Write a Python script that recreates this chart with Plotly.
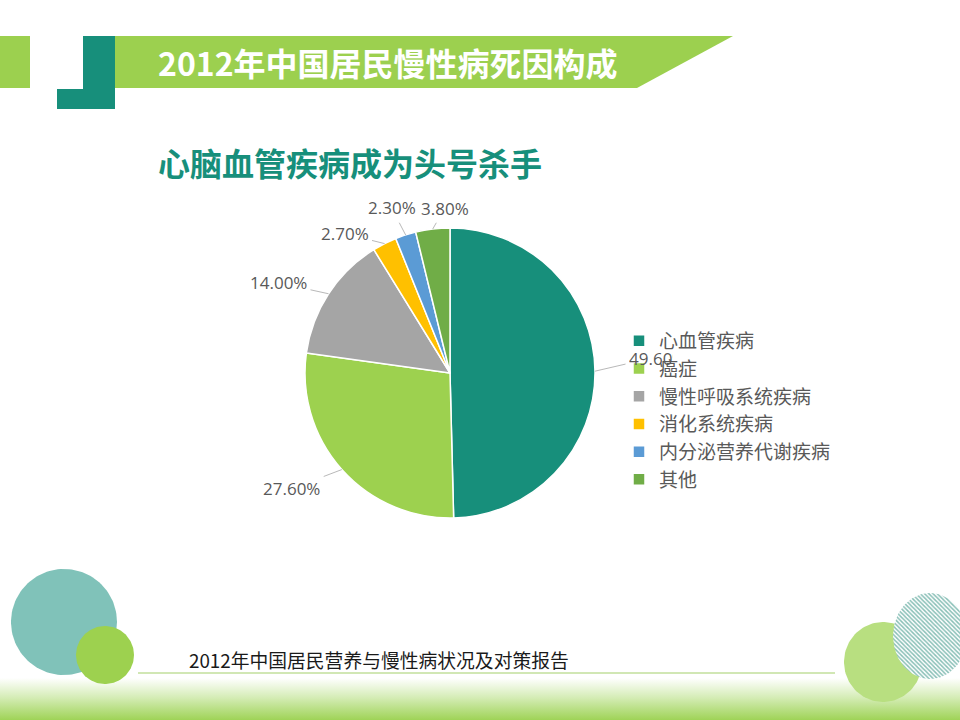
import numpy as np
import plotly.graph_objects as go

# data
categories = ['心血管疾病', '癌症', '慢性呼吸系统疾病', '消化系统疾病', '内分泌营养代谢疾病', '其他']
shares = [49.6, 27.6, 14.0, 2.7, 2.3, 3.8]

title_text = '2012年中国居民慢性病死因构成'
subtitle_text = '心脑血管疾病成为头号杀手'
source_text = '2012年中国居民营养与慢性病状况及对策报告'

# colours
slice_colors = ['#178f7b', '#9dd14f', '#a5a5a5', '#ffc000', '#5b9bd5', '#70ad47']
TEAL = '#178f7b'
GREEN = '#9cd04f'
LABEL_GREY = '#595959'

# everything is laid out in window pixels (y down); body margin is removed below
W, H = 960, 720
PIE_CX, PIE_CY, PIE_R = 450, 373, 145

# label offsets from the slice edge (pixels), and clipped box width for the first one
label_offsets = [(56, -13), (-50, 19), (-50, -11), (-40, -10), (-14, -27), (12, -21)]
label_widths = [44, None, None, None, None, None]


def circle_xy(cx, cy, rx, ry, n=120):
    t = np.linspace(0, 2 * np.pi, n)
    return cx + rx * np.cos(t), cy + ry * np.sin(t)


fig = go.Figure()

# bottom gradient band
fig.add_trace(go.Scatter(
    x=[0, W, W, 0, 0], y=[678, 678, H, H, 678], mode='lines', line=dict(width=0),
    fill='toself', hoverinfo='skip', showlegend=False,
    fillgradient=dict(type='vertical', start=678, stop=H,
                      colorscale=[[0, '#ffffff'], [0.45, '#d6edb8'], [1, '#9fd357']]),
))

# decorative circles
for cx, cy, rx, ry, col in [(64, 622, 53, 53, '#80c2b9'),
                            (105, 655, 29, 29, '#9dd14f'),
                            (883, 662, 39, 40, '#b8df80')]:
    xs, ys = circle_xy(cx, cy, rx, ry)
    fig.add_trace(go.Scatter(x=xs, y=ys, mode='lines', line=dict(width=0), fill='toself',
                             fillcolor=col, hoverinfo='skip', showlegend=False))

# hatched circle bottom right
xs, ys = circle_xy(930, 636, 37, 43)
fig.add_trace(go.Scatter(
    x=xs, y=ys, mode='lines', line=dict(width=0), fill='toself', hoverinfo='skip', showlegend=False,
    fillpattern=dict(shape='\\', fgcolor='#12806e', bgcolor='white', size=3, solidity=0.5),
))

# the pie
fig.add_trace(go.Pie(
    labels=categories, values=shares, sort=False, direction='clockwise', rotation=0,
    marker=dict(colors=slice_colors, line=dict(color='white', width=1.5)),
    textinfo='none', hoverinfo='label+percent',
    domain=dict(x=[(PIE_CX - PIE_R) / W, (PIE_CX + PIE_R) / W],
                y=[1 - (PIE_CY + PIE_R) / H, 1 - (PIE_CY - PIE_R) / H]),
))

# header shapes
shapes = [
    dict(type='rect', x0=0, x1=30, y0=36, y1=88, fillcolor=GREEN, line_width=0),
    dict(type='path', path='M 115 36 L 733 36 L 637 88 L 115 88 Z', fillcolor=GREEN, line_width=0),
    dict(type='rect', x0=83, x1=115, y0=36, y1=109, fillcolor=TEAL, line_width=0),
    dict(type='rect', x0=57, x1=115, y0=89, y1=109, fillcolor=TEAL, line_width=0),
    dict(type='line', x0=138, x1=835, y0=673, y1=673, line=dict(color='#a3d06a', width=1.2)),
]
for s in shapes:
    s.update(xref='x', yref='y', layer='below')

annotations = [
    dict(x=156, y=62, text='<b>' + title_text + '</b>', xanchor='left', yanchor='middle',
         font=dict(size=32, color='white', family='Noto Sans CJK SC')),
    dict(x=156, y=162, text='<b>' + subtitle_text + '</b>', xanchor='left', yanchor='middle',
         font=dict(size=32, color=TEAL, family='Noto Sans CJK SC')),
    dict(x=187, y=659, text=source_text, xanchor='left', yanchor='middle',
         font=dict(size=18.8, color='#1a1a1a', family='Noto Sans CJK SC')),
]

# data labels with leader lines, anchored on each slice's mid angle
cum = np.cumsum([0] + shares[:-1])
total = sum(shares)
for i, v in enumerate(shares):
    ang = 2 * np.pi * (cum[i] + v / 2) / total
    px = PIE_CX + PIE_R * np.sin(ang)
    py = PIE_CY - PIE_R * np.cos(ang)
    ax, ay = label_offsets[i]
    ann = dict(x=px, y=py, ax=ax, ay=ay, text='%.2f%%' % v, showarrow=True, arrowhead=0,
               arrowwidth=0.8, arrowcolor='#a6a6a6', standoff=0, startstandoff=2,
               font=dict(size=17, color=LABEL_GREY, family='Open Sans, Noto Sans CJK SC'))
    if label_widths[i]:
        ann.update(width=label_widths[i], align='left')
    annotations.append(ann)

for a in annotations:
    a.setdefault('xref', 'x')
    a.setdefault('yref', 'y')
    a.setdefault('showarrow', False)

fig.update_layout(
    width=W, height=H,
    margin=dict(l=0, r=0, t=0, b=0, autoexpand=False),
    paper_bgcolor='white', plot_bgcolor='white',
    xaxis=dict(range=[0, W], visible=False, domain=[0, 1], fixedrange=True),
    yaxis=dict(range=[H, 0], visible=False, domain=[0, 1], fixedrange=True),
    shapes=shapes, annotations=annotations,
    legend=dict(x=619 / W, y=1 - 322 / H, xanchor='left', yanchor='top',
                font=dict(size=19, color=LABEL_GREY, family='Noto Sans CJK SC'),
                bgcolor='rgba(0,0,0,0)', itemclick=False),
)

# drop the page's default body margin so the slide sits at the window corner
fig.write_html("out.html", config={'displayModeBar': False},
               post_script="document.body.style.margin='0';document.body.style.overflow='hidden';")
